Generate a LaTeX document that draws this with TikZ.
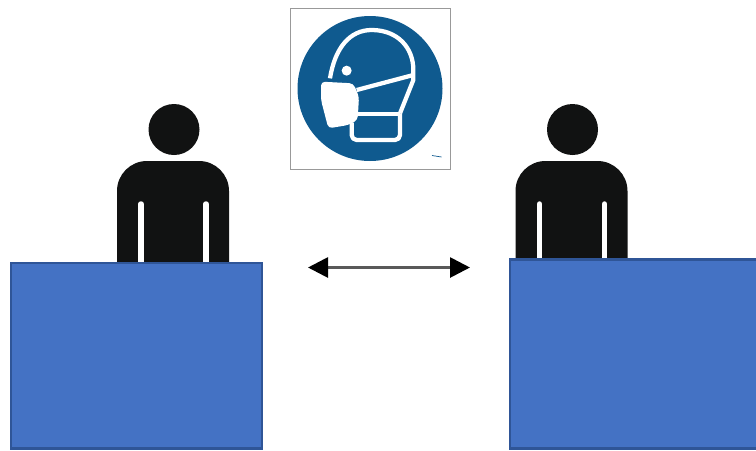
\documentclass[tikz,border=0pt]{standalone}
\usepackage{tikz}
\usetikzlibrary{arrows.meta}
\definecolor{deskblue}{HTML}{4472C4}
\definecolor{deskedge}{HTML}{2F5597}
\definecolor{signblue}{HTML}{0F5A8F}
\definecolor{figureblack}{HTML}{111212}
\tikzset{
  desk/.style={fill=deskblue,draw=deskedge,line width=1.7pt},
  slit/.style={white,line width=0.11cm,line cap=round},
  signline/.style={white,line width=0.085cm,line join=round},
}
\begin{document}
\begin{tikzpicture}
\useasboundingbox (0.000,0.000) rectangle (15.120,-9.000);
\fill[white] (0.000,0.000) rectangle (15.120,-9.000);
% left person
\fill[figureblack] (3.480,-2.590) circle (0.51);
\fill[figureblack,rounded corners=0.6cm] (2.340,-6.200) -- (2.340,-3.220) -- (4.580,-3.220) -- (4.580,-6.200) -- cycle;
\draw[slit] (2.820,-4.080) -- (2.820,-5.300);
\draw[slit] (4.120,-4.080) -- (4.120,-5.300);
% right person
\fill[figureblack] (11.450,-2.590) circle (0.51);
\fill[figureblack,rounded corners=0.6cm] (10.310,-6.200) -- (10.310,-3.220) -- (12.550,-3.220) -- (12.550,-6.200) -- cycle;
\draw[slit] (10.790,-4.080) -- (10.790,-5.300);
\draw[slit] (12.090,-4.080) -- (12.090,-5.300);
% desks
\draw[desk] (0.220,-5.260) rectangle (5.240,-8.970);
\draw[desk] (10.200,-5.190) rectangle (15.200,-8.970);
% sign
\draw[black!40,line width=0.4pt] (5.800,-0.160) rectangle (9.000,-3.380);
\fill[signblue] (7.400,-1.770) circle (1.45);
\draw[signline] (6.600,-1.567) .. controls (6.700,-0.950) and (7.000,-0.600) .. (7.433,-0.600) .. controls (7.950,-0.600) and (8.267,-0.950) .. (8.267,-1.400) -- (8.267,-1.600) -- (8.000,-2.267);
\draw[signline,rounded corners=0.1cm] (8.000,-2.267) -- (8.000,-2.800) -- (7.033,-2.800) -- (7.033,-2.450);
\draw[signline] (7.133,-1.800) -- (8.267,-1.500);
\draw[signline] (7.167,-2.280) -- (8.000,-2.280);
\fill[white,rounded corners=0.08cm] (6.420,-1.633) -- (7.067,-1.667) -- (7.180,-1.933) -- (7.153,-2.400) -- (6.967,-2.500) -- (6.567,-2.567) -- (6.420,-2.000) -- cycle;
\fill[white] (6.933,-1.413) circle (0.1);
\draw[signblue,line width=0.4pt] (8.640,-3.110) -- (8.830,-3.140);
% distance arrow
\coordinate (gapl) at (6.160,-5.350);
\coordinate (gapr) at (9.400,-5.350);
\draw[{Triangle[length=0.4cm,width=0.4cm]}-{Triangle[length=0.4cm,width=0.4cm]},black!65,line width=1.6pt,arrows={[black]}] (gapl) -- (gapr);
\end{tikzpicture}
\end{document}
